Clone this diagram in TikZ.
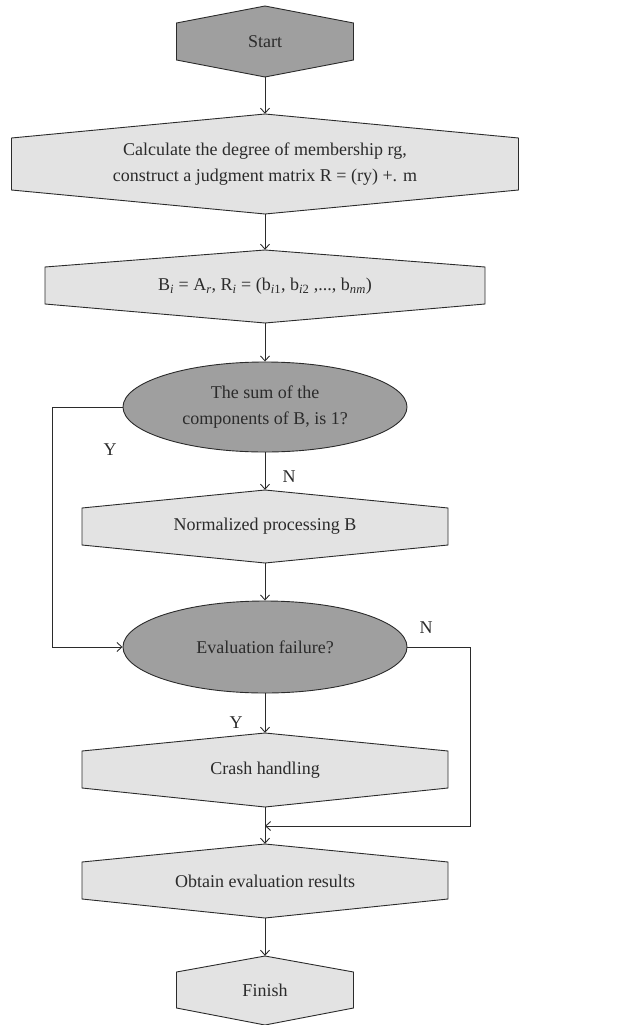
\documentclass[tikz,border=0pt]{standalone}
\usepackage{fontspec}
\setmainfont{Liberation Serif}
\usetikzlibrary{arrows.meta,shapes.geometric}
\definecolor{darkfill}{HTML}{9F9F9F}
\definecolor{lightfill}{HTML}{E3E3E3}
\definecolor{ink}{HTML}{2B2B2B}
\tikzset{
  shapeline/.style={draw=ink, line width=0.9pt},
  arr/.style={draw=ink, line width=0.9pt, -{Straight Barb[length=5pt,width=9pt]}},
  txt/.style={text=ink, font=\fontsize{18}{26}\selectfont, align=center, inner sep=0pt},
  lbl/.style={text=ink, font=\fontsize{18}{22}\selectfont, inner sep=0pt}
}
% name, cx, halfwidth, ytop, yshoulder1, yshoulder2, ybottom, fill colour, text
\newcommand\hexbox[9]{%
  \pgfmathsetmacro\hxL{#2-#3}%
  \pgfmathsetmacro\hxR{#2+#3}%
  \pgfmathsetmacro\hxM{(#4+#7)/2}%
  \pgfmathsetmacro\hxH{#7-#4}%
  \pgfmathsetmacro\hxW{2*#3}%
  \path[shapeline, fill=#8] (#2,#4) -- (\hxR,#5) -- (\hxR,#6) -- (#2,#7) -- (\hxL,#6) -- (\hxL,#5) -- cycle;
  \node[txt, minimum width=\hxW pt, minimum height=\hxH pt] (#1) at (#2,\hxM) {#9};
}
\begin{document}
\begin{tikzpicture}[x=1pt,y=-1pt]
\useasboundingbox (0,0) rectangle (619,1025);

\hexbox{start}{265}{88.5}{6}{23}{60}{77}{darkfill}{Start}
\hexbox{calc}{265}{253.5}{114}{138}{190}{214}{lightfill}{Calculate the degree of membership rg,\\construct a judgment matrix R = (ry) +. m}
\hexbox{bi}{265}{220}{250}{267}{304}{323}{lightfill}{B\textsubscript{\textit{i}} = A\textsubscript{\textit{r}}, R\textsubscript{\textit{i}} = (b\textsubscript{\textit{i}1}, b\textsubscript{\textit{i}2} ,..., b\textsubscript{\textit{nm}})}

\node[ellipse, shapeline, fill=darkfill, txt, minimum width=284pt, minimum height=90pt] (sum) at (265,407) {The sum of the\\components of B, is 1?};

\hexbox{norm}{265}{183}{490}{508}{545}{563}{lightfill}{Normalized processing B}

\node[ellipse, shapeline, fill=darkfill, txt, minimum width=284pt, minimum height=92pt] (fail) at (265,647) {Evaluation failure?};

\hexbox{crash}{265}{183}{733}{751}{788}{807}{lightfill}{Crash handling}
\hexbox{obtain}{265}{183}{844}{862}{899}{918}{lightfill}{Obtain evaluation results}
\hexbox{finish}{265}{88.5}{956}{972}{1008}{1025}{lightfill}{Finish}

\coordinate (join) at (265,826);

\draw[arr] (start) -- (calc);
\draw[arr] (calc) -- (bi);
\draw[arr] (bi) -- (sum);
\draw[arr] (sum) -- (norm);
\draw[arr] (norm) -- (fail);
\draw[arr] (sum.west) -- ++(-70,0) |- (fail.west);
\draw[arr] (fail) -- (crash);
\draw[arr] (fail.east) -- ++(63,0) |- (join);
\draw[arr] (crash) -- (obtain);
\draw[arr] (obtain) -- (finish);

\node[lbl] (y1) at (110,450) {Y};
\node[lbl] (n1) at (289,477) {N};
\node[lbl] (n2) at (426,628) {N};
\node[lbl] (y2) at (236,723) {Y};
\end{tikzpicture}
\end{document}
